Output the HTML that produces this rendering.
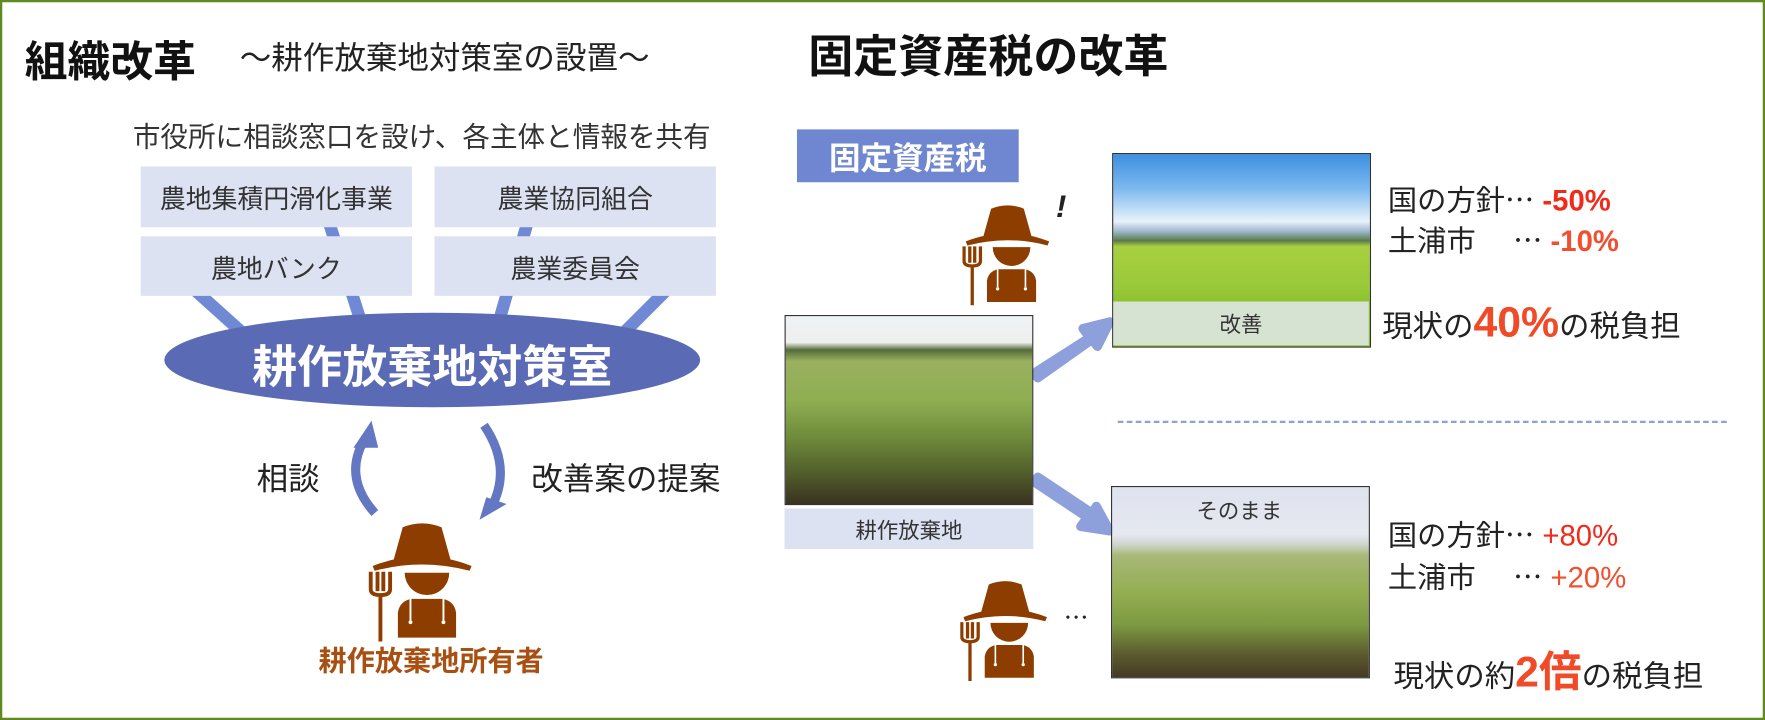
<!DOCTYPE html>
<html><head><meta charset="utf-8"><style>
html,body{margin:0;padding:0;background:#fff;}
body{width:1765px;height:720px;overflow:hidden;position:relative;}
#c{position:absolute;left:0;top:0;width:1568px;height:640px;transform:scale(1.12564,1.125);transform-origin:0 0;font-family:"Liberation Sans","Noto Sans CJK JP",sans-serif;color:#222;}
.a{position:absolute;white-space:nowrap;}
.box{position:absolute;background:#dde2f3;display:flex;align-items:center;justify-content:center;font-size:23px;color:#333;}
.r{color:#f02b1c;font-weight:bold;}
.j{font-family:"Noto Sans CJK JP",sans-serif;}
</style></head><body>
<div id="c">
<div style="position:absolute;left:0;top:0;width:1564px;height:636px;border:2px solid #5f8a1e;"></div>
<svg width="1568" height="640" style="position:absolute;left:0;top:0">
<defs>
<symbol id="f" viewBox="0 0 110 130">
<path d="M25,46 L35,10 Q55,2 75,10 L85,46 Z" fill="#8d3d00"/>
<path d="M4,50 Q55,30 106,50 L104,55 Q55,42 6,55 Z" fill="#8d3d00"/>
<path d="M37,57 H83 A23,23 0 0 1 37,57 Z" fill="#8d3d00"/>
<path d="M30,124 V98 Q32,86 44,84 H76 Q88,86 90,98 V124 Z" fill="#8d3d00"/>
<path d="M43,84 V106 M77,84 V106" stroke="#fff" stroke-width="2"/>
<circle cx="43" cy="108" r="2" fill="#fff"/><circle cx="77" cy="108" r="2" fill="#fff"/>
<path d="M12,78 V128 M2,56 V74 Q2,80 12,80 Q22,80 22,74 V56 M9,56 V76 M15,56 V76" stroke="#8d3d00" stroke-width="4" fill="none"/>
</symbol>
</defs>
<g stroke="#7089d4" stroke-width="11">
<line x1="170" y1="255" x2="220" y2="300"/>
<line x1="293" y1="200" x2="322" y2="290"/>
<line x1="468" y1="200" x2="442" y2="290"/>
<line x1="595" y1="255" x2="550" y2="300"/>
</g>
<ellipse cx="384" cy="320" rx="238" ry="42" fill="#5b6ab5"/>
<path d="M333,456 Q305,425 323,392" stroke="#6377c2" stroke-width="8" fill="none"/>
<polygon points="330,374 314,398 336,398" fill="#6377c2"/>
<path d="M430,378 Q455,415 437,450" stroke="#6377c2" stroke-width="8" fill="none"/>
<polygon points="426,462 450,448 432,442" fill="#6377c2"/>
<use href="#f" x="327" y="460" width="96" height="112"/>
<use href="#f" x="855" y="178" width="80" height="95"/>
<use href="#f" x="853" y="512" width="80" height="95"/>
<path d="M918,332 L968,300 L962,292 L986,286 L975,308 L970,302 L922,336 Z" fill="#8ea0dc" stroke="#8ea0dc" stroke-width="8" stroke-linejoin="round"/>
<path d="M918,428 L966,460 L960,468 L986,472 L974,450 L970,456 L922,424 Z" fill="#8ea0dc" stroke="#8ea0dc" stroke-width="8" stroke-linejoin="round"/>
<line x1="993" y1="375" x2="1536" y2="375" stroke="#8ea0dc" stroke-width="2" stroke-dasharray="5,3"/>
</svg>
<div class="a" style="left:22px;top:24px;font-size:38px;font-weight:bold;color:#111">組織改革</div>
<div class="a" style="left:213px;top:30px;font-size:28px;color:#222">～耕作放棄地対策室の設置～</div>
<div class="a" style="left:718px;top:18px;font-size:40px;font-weight:bold;color:#111">固定資産税の改革</div>
<div class="a" style="left:118px;top:103px;font-size:24.5px;color:#333">市役所に相談窓口を設け、各主体と情報を共有</div>
<div class="box" style="left:125px;top:148px;width:241px;height:54px">農地集積円滑化事業</div>
<div class="box" style="left:386px;top:148px;width:250px;height:54px">農業協同組合</div>
<div class="box" style="left:125px;top:210px;width:241px;height:53px">農地バンク</div>
<div class="box" style="left:386px;top:210px;width:250px;height:53px">農業委員会</div>
<div class="a" style="left:146px;top:294px;width:476px;text-align:center;font-size:40px;font-weight:bold;color:#fff">耕作放棄地対策室</div>
<div class="a" style="left:228px;top:404px;font-size:28px">相談</div>
<div class="a" style="left:472px;top:404px;font-size:28px">改善案の提案</div>
<div class="a" style="left:283px;top:568px;font-size:25px;font-weight:bold;color:#a84f12">耕作放棄地所有者</div>
<div class="box" style="left:708px;top:115px;width:197px;height:47px;background:#6f86d0;color:#fff;font-size:28px;font-weight:bold">固定資産税</div>
<div style="position:absolute;left:697px;top:280px;width:219px;height:167px;border:1px solid #333;background:linear-gradient(#eef2f4 0,#eef0ee 14%,#556b3a 18%,#9ab060 24%,#8fae52 45%,#6e8a3a 65%,#4f5a2a 85%,#3a3220 100%)"></div>
<div class="box" style="left:697px;top:452px;width:221px;height:36px;font-size:19px">耕作放棄地</div>
<div style="position:absolute;left:988px;top:136px;width:228px;height:171px;border:1px solid #333;background:linear-gradient(#3d8fe0 0,#7cb9ef 18%,#e8f2fa 35%,#9fbad0 40%,#5a7a4a 45%,#a8d040 48%,#98c838 70%,#8cc030 78%)"></div>
<div class="box" style="left:989px;top:268px;width:227px;height:39px;background:#d6e2d2;font-size:19px">改善</div>
<div style="position:absolute;left:987px;top:432px;width:228px;height:169px;border:1px solid #333;background:linear-gradient(#dfe3ee 0,#e5e8f0 25%,#cfd6cc 30%,#a8b878 36%,#94ae52 55%,#7e9a42 72%,#5b5a2e 88%,#453a24 100%)"></div>
<div class="a" style="left:987px;top:440px;width:228px;text-align:center;font-size:19px;color:#333">そのまま</div>
<div class="a" style="left:938px;top:168px;font-size:28px;font-style:italic;font-weight:bold">!</div>
<div class="a j" style="left:945px;top:532px;font-size:22px">⋯</div>
<div class="a" style="left:1233px;top:158px;font-size:26px">国の方針<span class="j">⋯</span> <span class="r">-50%</span></div>
<div class="a" style="left:1233px;top:194px;font-size:26px">土浦市　 <span class="j">⋯</span> <span class="r" style="color:#f05030">-10%</span></div>
<div class="a" style="left:1228px;top:266px;font-size:27px">現状の<span class="r" style="font-size:38px;color:#f04a28">40%</span>の税負担</div>
<div class="a" style="left:1233px;top:456px;font-size:26px">国の方針<span class="j">⋯</span> <span style="color:#f02b1c">+80%</span></div>
<div class="a" style="left:1233px;top:493px;font-size:26px">土浦市　 <span class="j">⋯</span> <span style="color:#f05030">+20%</span></div>
<div class="a" style="left:1238px;top:566px;font-size:27px">現状の約<span class="r" style="font-size:38px;color:#f04a28">2倍</span>の税負担</div>
</div>
</body></html>
